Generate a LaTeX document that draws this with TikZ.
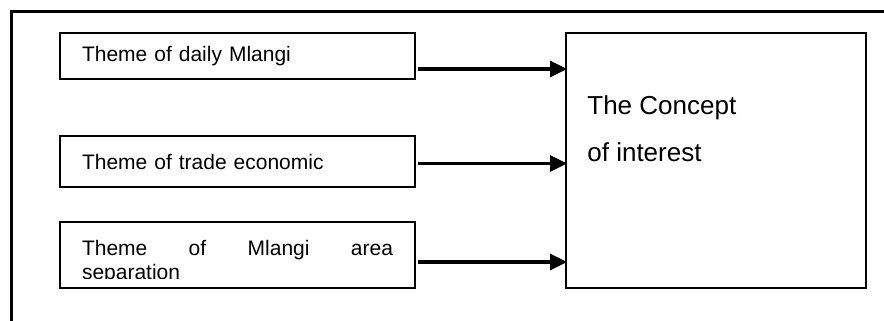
\documentclass[tikz,border=0pt]{standalone}
\usepackage{fontspec}
\setmainfont{Liberation Sans}
\usetikzlibrary{positioning,arrows.meta}

\tikzset{
  themebox/.style = {draw, line width=0.6pt, outer sep=0pt, inner ysep=0pt,
                     inner xsep=11pt, text width=155.5pt, align=left,
                     font=\fontsize{10.5}{12}\selectfont},
  conceptbox/.style = {draw, line width=0.6pt, outer sep=0pt, inner sep=0pt,
                       minimum width=150pt, minimum height=127.5pt},
  feed/.style = {line width=1.6pt, -{Triangle[length=8.5pt,width=8pt]},
                 shorten >=1pt},
  frame/.style = {line width=1.6pt}
}

\begin{document}
\begin{tikzpicture}[x=0.5pt, y=-0.5pt]
    \useasboundingbox (0,0) rectangle (884,321);
    % open frame, top and left only
    \draw[frame] (884,11.5) -- (11.5,11.5) -- (11.5,321);

    \node[themebox, minimum height=23pt, anchor=north west] (theme1) at (60,33)
        {Theme of daily Mlangi};
    \node[themebox, minimum height=25.5pt, below=28.5pt of theme1] (theme2)
        {Theme of trade economic};
    \node[themebox, minimum height=33pt, below=17.5pt of theme2] (theme3) {};
    \begin{scope}
        \clip (theme3.north west) rectangle ([shift={(0,-10)}]theme3.south east);
        \node[themebox, draw=none, inner xsep=0pt, anchor=north west] (theme3text)
            at ([shift={(22,18.5)}]theme3.north west)
            {\makebox[155.5pt]{Theme\hfill of\hfill Mlangi\hfill area}\\separation};
    \end{scope}

    \node[conceptbox, right=75.5pt of theme1.north east, anchor=north west] (concept) {};
    \node[anchor=north west, inner sep=0pt, align=left,
          font=\fontsize{13}{23.5}\selectfont] (conceptlabel)
        at ([shift={(21,62)}]concept.north west) {The Concept\\of interest};

    \draw[feed] ([shift={(3,13)}]theme1.east) -- ([shift={(3,13)}]theme1.east -| concept.west);
    \draw[feed] ([shift={(3,2)}]theme2.east) -- ([shift={(3,2)}]theme2.east -| concept.west);
    \draw[feed] ([shift={(3,7)}]theme3.east) -- ([shift={(3,7)}]theme3.east -| concept.west);
\end{tikzpicture}
\end{document}
